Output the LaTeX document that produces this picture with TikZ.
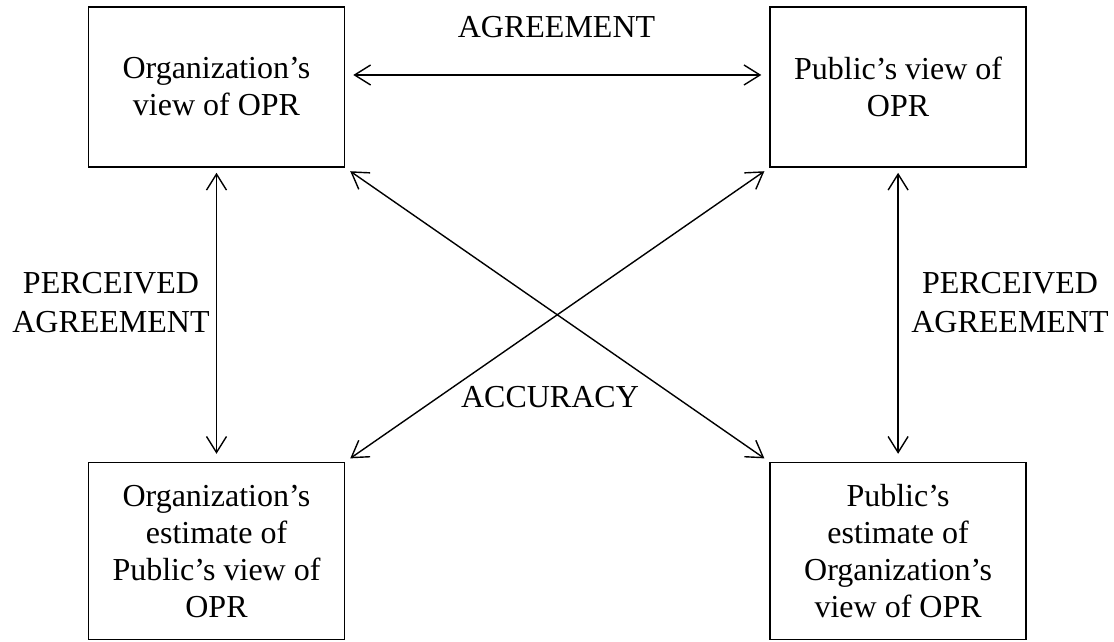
\documentclass[tikz,border=0pt]{standalone}
\usepackage{fontspec}
\setmainfont{Liberation Serif}
\usetikzlibrary{arrows.meta, positioning}
\tikzstyle{opr} = [rectangle, draw, line width=0.8pt, minimum width=128pt, align=center, inner sep=0pt, font=\fontsize{16}{18.5}\selectfont]
\tikzstyle{lbl} = [align=center, inner sep=0pt, font=\fontsize{16}{19.5}\selectfont]
\tikzstyle{link} = [{Straight Barb[length=8pt,width=10pt]}-{Straight Barb[length=8pt,width=10pt]}, line width=0.7pt]

\begin{document}
\begin{tikzpicture}[x=0.5pt, y=0.5pt]
\useasboundingbox (0,0) rectangle (1114,642);
\node (orgview) [opr, minimum height=80pt] at (216.5,555) {Organization’s\\view of OPR};
\node (pubview) [opr, minimum height=80pt, right=212pt of orgview] {Public’s view of\\OPR};
\node (orgest) [opr, minimum height=88.5pt, below=147pt of orgview] {Organization’s\\estimate of\\Public’s view of\\OPR};
\node (pubest) [opr, minimum height=88.5pt, below=147pt of pubview] {Public’s\\estimate of\\Organization’s\\view of OPR};
\node (agree) [lbl] at (556.5,615) {AGREEMENT};
\node (percl) [lbl] at (111,339) {PERCEIVED\\AGREEMENT};
\node (percr) [lbl] at (1010,339) {PERCEIVED\\AGREEMENT};
\node (accur) [lbl] at (550,245) {ACCURACY};
\draw[link, shorten <=4pt, shorten >=4pt] ([yshift=6pt]orgview.east) -- ([yshift=6pt]pubview.west);
\draw[link, shorten <=2.5pt, shorten >=4pt] (orgview.south) -- (orgest.north);
\draw[link, shorten <=2.5pt, shorten >=4pt] (pubview.south) -- (pubest.north);
\draw[link, shorten <=3pt, shorten >=3pt] (orgview.south east) -- (pubest.north west);
\draw[link, shorten <=3pt, shorten >=3pt] (pubview.south west) -- (orgest.north east);
\end{tikzpicture}
\end{document}
